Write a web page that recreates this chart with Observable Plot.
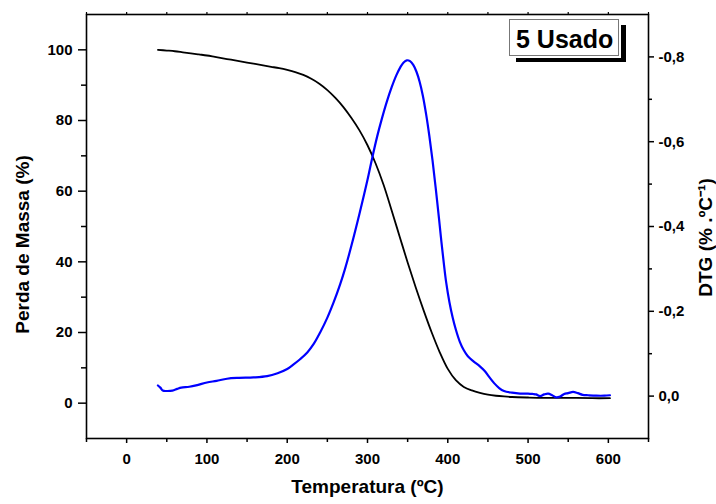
<!DOCTYPE html>
<html><head><meta charset="utf-8">
<script src="https://cdn.jsdelivr.net/npm/d3@7"></script>
<script src="https://cdn.jsdelivr.net/npm/@observablehq/plot@0.6"></script>
<style>
html,body{margin:0;padding:0;background:#fff;}
#wrap{position:relative;width:716px;height:504px;}
#tag{position:absolute;left:509px;top:19px;width:110px;height:37px;box-sizing:border-box;border:1px solid #777;background:#fff;
 box-shadow:0 0 0 2px #fff, 7px 6px 0 0 #000;font:bold 25px "Liberation Sans",Arial,sans-serif;color:#000;
 line-height:35px;padding-left:6px;padding-top:2px;white-space:nowrap;}
</style></head>
<body><div id="wrap"><div id="tag">5 Usado</div></div>
<script>
// ---- data ----
const tgTemp = [39,50,60,70,80,90,100,110,120,130,140,150,160,170,180,190,200,210,220,230,240,250,260,270,280,290,300,310,320,330,340,350,360,370,380,390,400,410,420,430,440,450,460,470,480,500,520,550,580,602];
const tgMass = [100,99.8,99.6,99.3,99.0,98.7,98.4,98.0,97.6,97.2,96.8,96.4,96.0,95.6,95.2,94.8,94.3,93.7,92.9,91.8,90.4,88.6,86.4,83.8,80.7,77.2,73.0,67.9,61.8,54.6,47.2,39.8,32.8,26.2,20.0,14.4,9.7,6.5,4.6,3.6,2.9,2.4,2.1,1.9,1.75,1.6,1.5,1.5,1.4,1.4];
const dtgTemp = [39,42,45,50,57,63,68,78,88,100,112,125,140,158,175,188,200,208,216,225,233,241,250,258,266,272,280,290,300,306,312,318,324,330,336,341,345,349,353,357,361,365,369,373,377,381,385,389,392,395,398,402,406,410,415,420,425,432,440,446,452,458,464,470,480,490,500,506,510,515,520,525,530,535,540,545,550,556,562,568,575,585,595,602];
const dtgVal = [-0.025,-0.020,-0.013,-0.012,-0.013,-0.017,-0.020,-0.022,-0.026,-0.032,-0.036,-0.041,-0.043,-0.044,-0.047,-0.054,-0.064,-0.075,-0.087,-0.103,-0.123,-0.150,-0.185,-0.222,-0.264,-0.300,-0.355,-0.430,-0.510,-0.563,-0.612,-0.655,-0.694,-0.728,-0.757,-0.776,-0.787,-0.792,-0.790,-0.781,-0.765,-0.741,-0.708,-0.665,-0.614,-0.556,-0.490,-0.420,-0.365,-0.314,-0.268,-0.222,-0.186,-0.157,-0.128,-0.108,-0.094,-0.082,-0.070,-0.059,-0.044,-0.030,-0.019,-0.012,-0.008,-0.006,-0.006,-0.005,-0.004,0.000,-0.004,-0.006,-0.002,0.003,0.001,-0.005,-0.007,-0.010,-0.007,-0.003,-0.002,-0.001,-0.001,-0.002];
const xTicks = [0,100,200,300,400,500,600];
const xMinor = [-50,50,150,250,350,450,550,650];
const xTop = [-50,0,50,100,150,200,250,300,350,400,450,500,550,600,650];
const yTicks = [0,20,40,60,80,100];
const yMinor = [10,30,50,70,90];
const dtgTicks = [0,-0.2,-0.4,-0.6,-0.8];
const dtgMinor = [-0.1,-0.3,-0.5,-0.7];
const massDomain = [-10,110];
const dtgDomain = [0.1,-0.9];
const xLabel = "Temperatura (ºC)";
const yLabel = "Perda de Massa (%)";
const y2Label = "DTG (% .ºC⁻¹)";

// map DTG onto the mass scale
const span = (massDomain[1]-massDomain[0])/(dtgDomain[0]-dtgDomain[1]);
const toY = d => massDomain[0] + (dtgDomain[0]-d)*span;
const fromY = v => dtgDomain[0] - (v-massDomain[0])/span;
const fmtDtg = v => { const d = Math.round(fromY(v)*10)/10; return d.toFixed(1).replace(".", ","); };

const tg = tgTemp.map((t,i)=>({t, v: tgMass[i]}));
const dtg = dtgTemp.map((t,i)=>({t, v: dtgVal[i]}));
const blank = () => "";
const font = '"Liberation Sans", Arial, sans-serif';

const chart = Plot.plot({
  width:716, height:504,
  marginLeft:86, marginRight:68, marginTop:14, marginBottom:66,
  x:{domain:[-50,650]},
  y:{domain:massDomain},
  style:{fontFamily:font, fontWeight:"bold", fontSize:"15px", color:"#000", background:"#fff"},
  marks:[
    Plot.axisX({ticks:xTicks, tickSize:5, tickPadding:10, label:null, tickFormat:d=>String(d), strokeWidth:1.5, fontWeight:"bold"}),
    Plot.axisX({ticks:xMinor, tickSize:4, label:null, tickFormat:blank, strokeWidth:1.5}),
    Plot.axisX({anchor:"top", ticks:xTop, tickSize:3, label:null, tickFormat:blank, strokeWidth:1.2}),
    Plot.axisY({ticks:yTicks, tickSize:8, tickPadding:6, label:null, tickFormat:d=>String(d), strokeWidth:1.5, fontWeight:"bold"}),
    Plot.axisY({ticks:yMinor, tickSize:5, label:null, tickFormat:blank, strokeWidth:1.5}),
    Plot.axisY({anchor:"right", ticks:dtgTicks.map(toY), tickSize:5, tickPadding:5, label:null, tickFormat:fmtDtg, strokeWidth:1.5, fontWeight:"bold"}),
    Plot.axisY({anchor:"right", ticks:dtgMinor.map(toY), tickSize:3, label:null, tickFormat:blank, strokeWidth:1.5}),
    Plot.frame({stroke:"#000", strokeWidth:1.6}),
    Plot.line(tg, {x:"t", y:"v", stroke:"#000", strokeWidth:1.8, curve:"catmull-rom"}),
    Plot.line(dtg, {x:"t", y:d=>toY(d.v), stroke:"#0000ff", strokeWidth:2.2, curve:"catmull-rom"}),
    Plot.text([xLabel], {text:d=>d, frameAnchor:"bottom", dy:54, fontSize:19, fontWeight:"bold", textAnchor:"middle"}),
    Plot.text([yLabel], {text:d=>d, frameAnchor:"left", dx:-64, dy:18, rotate:-90, fontSize:19, fontWeight:"bold", textAnchor:"middle", lineAnchor:"middle"}),
    Plot.text([y2Label], {text:d=>d, frameAnchor:"right", dx:57, dy:11, rotate:-90, fontSize:19, fontWeight:"bold", textAnchor:"middle", lineAnchor:"middle"})
  ]
});
document.getElementById("wrap").insertBefore(chart, document.getElementById("tag"));
</script>
</body></html>
